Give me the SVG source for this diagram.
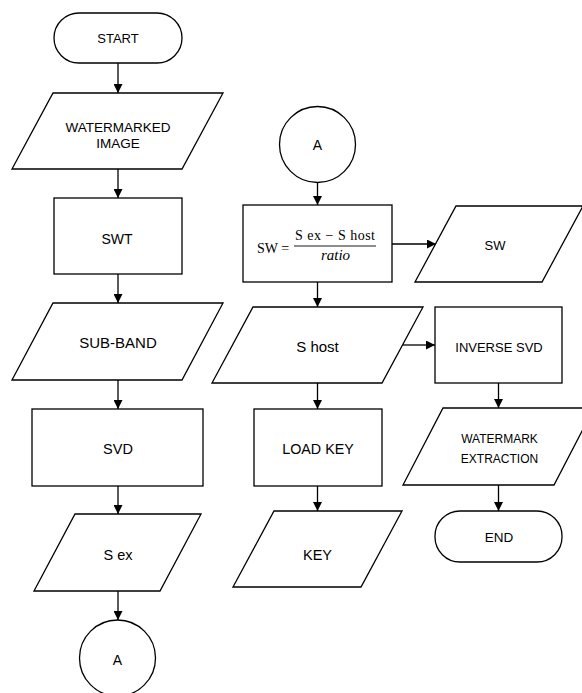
<svg xmlns="http://www.w3.org/2000/svg" width="582" height="693" viewBox="0 0 582 693">
<style>
.s{fill:#fff;stroke:#000;stroke-width:1.3}
.t{font-family:"Liberation Sans",Arial,sans-serif;fill:#000;text-anchor:middle}
.m{font-family:"Liberation Serif","Times New Roman",serif;fill:#000}
.c{stroke:#000;stroke-width:1.3;fill:none}
</style>
<defs>
<marker id="ah" markerUnits="userSpaceOnUse" markerWidth="9" markerHeight="9" refX="9" refY="4.5" orient="auto">
<path d="M0,0 L9,4.5 L0,9 Z" fill="#000"/>
</marker>
</defs>
<rect width="582" height="693" fill="#fff"/>
<g id="connectors" class="c">
<line x1="118" y1="63" x2="118" y2="93" marker-end="url(#ah)"/>
<line x1="118" y1="169" x2="118" y2="198" marker-end="url(#ah)"/>
<line x1="118" y1="274" x2="118" y2="303" marker-end="url(#ah)"/>
<line x1="118" y1="380" x2="118" y2="409" marker-end="url(#ah)"/>
<line x1="118" y1="486" x2="118" y2="514" marker-end="url(#ah)"/>
<line x1="118" y1="591" x2="118" y2="620" marker-end="url(#ah)"/>
<line x1="317.5" y1="183" x2="317.5" y2="205" marker-end="url(#ah)"/>
<line x1="317.5" y1="282" x2="317.5" y2="307" marker-end="url(#ah)"/>
<line x1="317.5" y1="383" x2="317.5" y2="409" marker-end="url(#ah)"/>
<line x1="317.5" y1="486" x2="317.5" y2="511" marker-end="url(#ah)"/>
<line x1="498.5" y1="383" x2="498.5" y2="408" marker-end="url(#ah)"/>
<line x1="498.5" y1="485" x2="498.5" y2="511" marker-end="url(#ah)"/>
<line x1="392" y1="244" x2="436" y2="244" marker-end="url(#ah)"/>
<line x1="403" y1="345" x2="435" y2="345" marker-end="url(#ah)"/>
</g>
<g id="start">
<rect class="s" x="54" y="13" width="128" height="50" rx="25"/>
<text class="t" x="118" y="43" font-size="13">START</text>
</g>
<g id="watermarked-image">
<polygon class="s" points="53,93 223,93 182,169 12,169"/>
<text class="t" x="118" y="132" font-size="13.5">WATERMARKED</text>
<text class="t" x="118" y="148" font-size="13.5">IMAGE</text>
</g>
<g id="swt">
<rect class="s" x="54" y="198" width="128" height="76"/>
<text class="t" x="117" y="244" font-size="14">SWT</text>
</g>
<g id="sub-band">
<polygon class="s" points="53,303 223,303 182,380 12,380"/>
<text class="t" x="118" y="348" font-size="15">SUB-BAND</text>
</g>
<g id="svd">
<rect class="s" x="32" y="409" width="171" height="77"/>
<text class="t" x="118" y="454" font-size="14.5">SVD</text>
</g>
<g id="s-ex">
<polygon class="s" points="75,514 201,514 160,591 34,591"/>
<text class="t" x="118" y="560" font-size="14.5">S ex</text>
</g>
<g id="a-left">
<circle class="s" cx="117.5" cy="658" r="38"/>
<text class="t" x="117.5" y="665" font-size="14">A</text>
</g>
<g id="a-right">
<circle class="s" cx="317.5" cy="144.5" r="38"/>
<text class="t" x="317.5" y="150" font-size="14">A</text>
</g>
<g id="formula">
<rect class="s" x="243" y="205" width="149" height="77"/>
<text class="m" x="257" y="253" font-size="14">SW =</text>
<text class="m" x="335" y="240" font-size="14" text-anchor="middle" textLength="80">S ex − S host</text>
<line x1="294" y1="246" x2="376" y2="246" stroke="#000" stroke-width="0.9"/>
<text class="m" x="335.5" y="260" font-size="15" font-style="italic" text-anchor="middle">ratio</text>
</g>
<g id="sw">
<polygon class="s" points="456,206 583,206 542,282 415,282"/>
<text class="t" x="495" y="250" font-size="13">SW</text>
</g>
<g id="s-host">
<polygon class="s" points="253,307 423,307 382,383 212,383"/>
<text class="t" x="317.5" y="352" font-size="15">S host</text>
</g>
<g id="inverse-svd">
<rect class="s" x="435" y="307" width="127" height="76"/>
<text class="t" x="499" y="352" font-size="13">INVERSE SVD</text>
</g>
<g id="load-key">
<rect class="s" x="254" y="409" width="128" height="77"/>
<text class="t" x="318" y="454" font-size="14.3">LOAD KEY</text>
</g>
<g id="key">
<polygon class="s" points="274,511 402,511 361,587 233,587"/>
<text class="t" x="317.5" y="560" font-size="14.5">KEY</text>
</g>
<g id="watermark-extraction">
<polygon class="s" points="443,408 594,408 554,485 403,485"/>
<text class="t" x="499.5" y="443" font-size="12">WATERMARK</text>
<text class="t" x="499.5" y="463" font-size="12">EXTRACTION</text>
</g>
<g id="end">
<rect class="s" x="435" y="511" width="127" height="51" rx="25"/>
<text class="t" x="499" y="542" font-size="13.5">END</text>
</g>
</svg>
